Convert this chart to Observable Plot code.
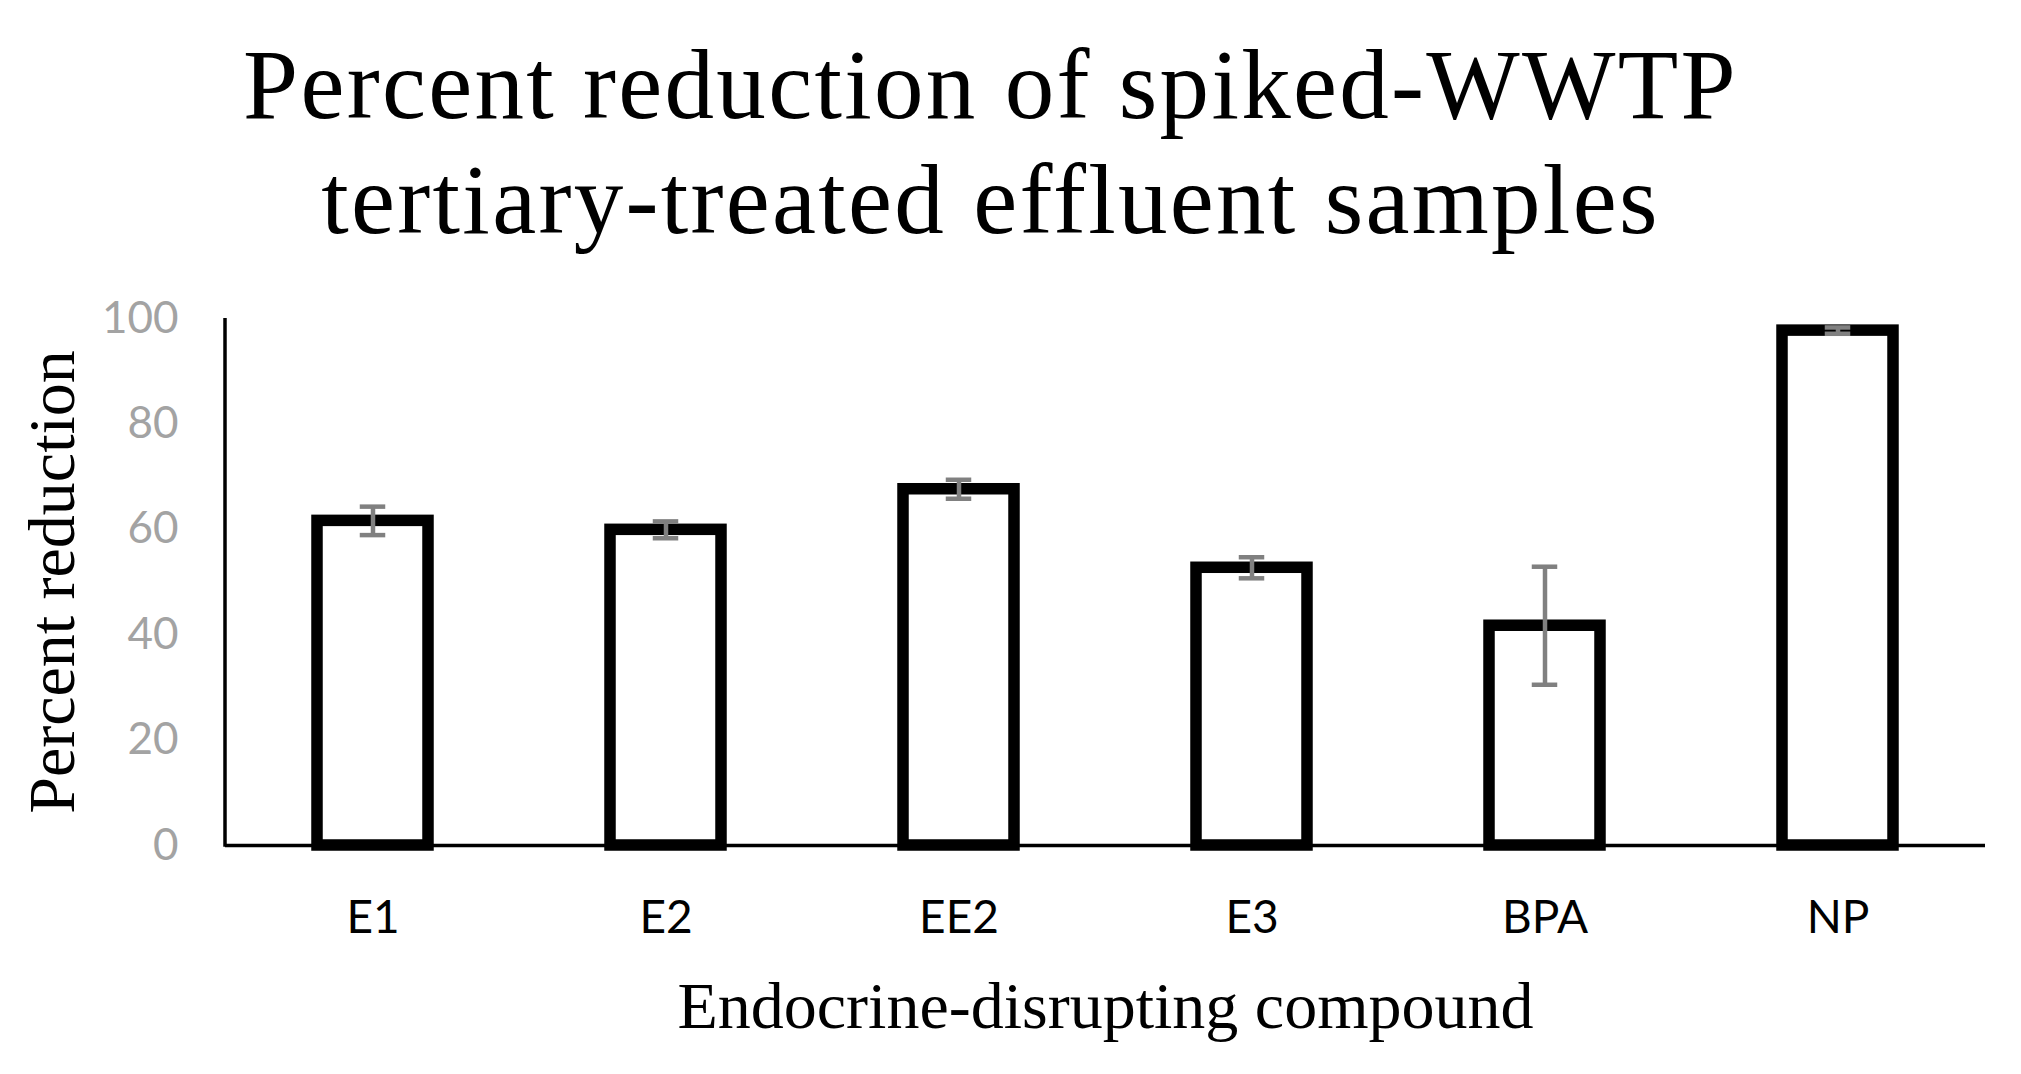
<!DOCTYPE html>
<html><head><meta charset="utf-8">
<script src="https://cdn.jsdelivr.net/npm/d3@7"></script>
<script src="https://cdn.jsdelivr.net/npm/@observablehq/plot@0.6"></script>
<style>
body{margin:0;background:#fff;}
#wrap{position:relative;width:2021px;height:1074px;overflow:hidden;background:#fff}
#title{position:absolute;left:-20px;top:27px;width:2021px;text-align:center;font-family:"Liberation Serif","Times New Roman",serif;font-size:99px;line-height:115px;letter-spacing:2.3px;color:#000;margin:0;font-weight:normal}
#chart{position:absolute;left:0;top:260px}
#chart svg{background:transparent}
</style></head><body>
<div id="wrap"><h1 id="title"></h1><div id="chart"></div></div>
<script>
// ---- data ----
const titleLines = ["Percent reduction of spiked-WWTP", "tertiary-treated effluent samples"];
const yTitle = "Percent reduction";
const xTitle = "Endocrine-disrupting compound";
const compounds = ["E1", "E2", "EE2", "E3", "BPA", "NP"];
const reduction = [61.6, 59.9, 67.6, 52.7, 41.7, 97.7];
const errors = [2.7, 1.6, 1.8, 2.0, 11.2, 0.6];
const yTicks = [0, 20, 40, 60, 80, 100];

const data = compounds.map((c, i) => ({c, v: reduction[i], e: errors[i]}));

document.getElementById("title").innerHTML = titleLines.join("<br>");

const serif = "Liberation Serif, Times New Roman, serif";
const sans = "Lato, Open Sans, sans-serif";

const yAxisLine = (index, scales, values, dimensions) => {
  const {marginLeft, marginTop, height, marginBottom} = dimensions;
  const y0 = scales && scales.y ? scales.y(0) : height - marginBottom;
  const y1 = scales && scales.y ? scales.y(100) : marginTop;
  return d3.create("svg:line")
    .attr("x1", marginLeft).attr("x2", marginLeft)
    .attr("y1", y0 + 1.75).attr("y2", y1)
    .attr("stroke", "black").attr("stroke-width", 3.5).node();
};

const chart = Plot.plot({
  width: 2021,
  height: 814,
  marginTop: 58,
  marginBottom: 229,
  marginLeft: 225,
  marginRight: 36,
  style: {background: "transparent", overflow: "visible"},
  x: {type: "band", domain: compounds, paddingInner: 0.62, paddingOuter: 0.31, label: null},
  y: {domain: [0, 100], label: null},
  marks: [
    Plot.axisY({ticks: yTicks, tickSize: 0, tickPadding: 47, fontSize: 44, fontFamily: sans, color: "#a3a3a3", label: null}),
    Plot.axisX({tickSize: 0, tickPadding: 55, fontSize: 46, fontFamily: sans, color: "#000", label: null}),
    Plot.ruleY([0], {stroke: "black", strokeWidth: 3.5}),
    yAxisLine,
    Plot.barY(data, {x: "c", y: "v", fill: "white", stroke: "black", strokeWidth: 11.5}),
    Plot.ruleX(data, {x: "c", y1: d => d.v - d.e, y2: d => d.v + d.e, stroke: "#808080", strokeWidth: 4.5}),
    Plot.tickY(data, {x: "c", y: d => d.v + d.e, stroke: "#808080", strokeWidth: 4.5, inset: 42.75}),
    Plot.tickY(data, {x: "c", y: d => d.v - d.e, stroke: "#808080", strokeWidth: 4.5, inset: 42.75}),
    Plot.text([xTitle], {frameAnchor: "bottom", dy: 161, fontFamily: serif, fontSize: 66, fill: "black", textAnchor: "middle", lineAnchor: "middle"}),
    Plot.text([yTitle], {frameAnchor: "left", dx: -173, rotate: -90, fontFamily: serif, fontSize: 66, fill: "black", textAnchor: "middle", lineAnchor: "middle"})
  ]
});
document.getElementById("chart").appendChild(chart);
</script>
</body></html>
